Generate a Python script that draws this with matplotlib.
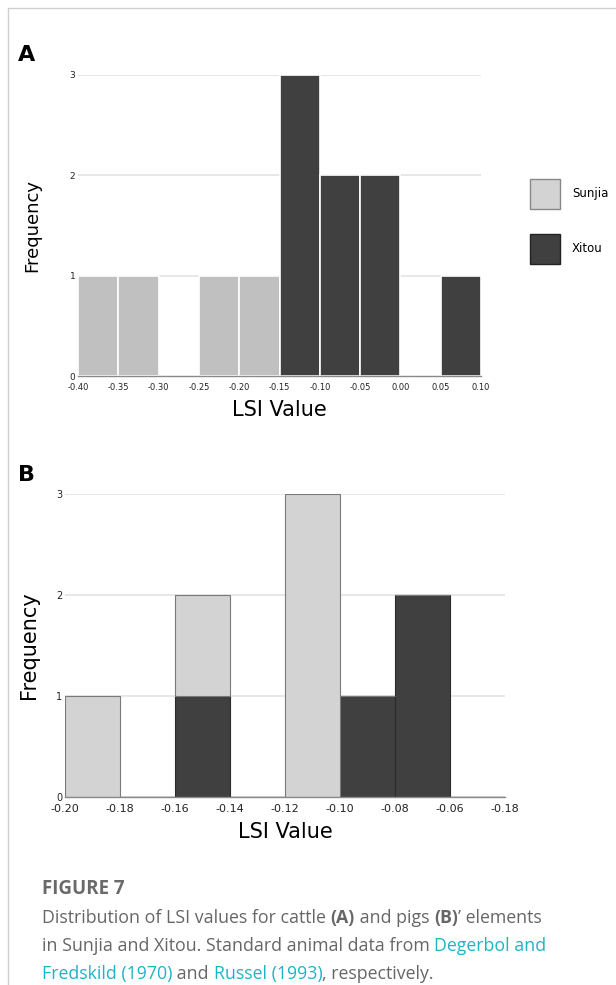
import matplotlib
matplotlib.use("Agg")
import matplotlib.pyplot as plt
from matplotlib.patches import Patch

# panel A (cattle), bins of width 0.05, left edges
a_left = [-0.40, -0.35, -0.30, -0.25, -0.20, -0.15, -0.10, -0.05, 0.00, 0.05]
a_sunjia = [1, 1, 0, 1, 1, 0, 0, 0, 0, 0]
a_xitou = [0, 0, 0, 0, 0, 3, 2, 2, 0, 1]
a_ticks = [-0.40, -0.35, -0.30, -0.25, -0.20, -0.15, -0.10, -0.05, 0.00, 0.05, 0.10]
a_ticklabels = ["-0.40", "-0.35", "-0.30", "-0.25", "-0.20", "-0.15", "-0.10",
                "-0.05", "0.00", "0.05", "0.10"]

# panel B (pigs), bins of width 0.02, Sunjia stacked on Xitou
b_left = [-0.20, -0.18, -0.16, -0.14, -0.12, -0.10, -0.08, -0.06]
b_xitou = [0, 0, 1, 0, 0, 1, 2, 0]
b_sunjia = [1, 0, 1, 0, 3, 0, 0, 0]
b_ticks = [-0.20, -0.18, -0.16, -0.14, -0.12, -0.10, -0.08, -0.06, -0.04]
b_ticklabels = ["-0.20", "-0.18", "-0.16", "-0.14", "-0.12", "-0.10", "-0.08",
                "-0.06", "-0.18"]  # last label as printed in the original

y_ticks = [0, 1, 2, 3]

W, H = 616, 985
fig = plt.figure(figsize=(W / 100, H / 100), dpi=100)
fig.patch.set_facecolor("white")


def px_axes(x0, x1, ytop, ybot):
    return fig.add_axes([x0 / W, 1 - ybot / H, (x1 - x0) / W, (ybot - ytop) / H])


def style(ax, ticksize, ysize):
    for s in ["top", "right", "left"]:
        ax.spines[s].set_visible(False)
    ax.spines["bottom"].set_color("#8a8a8a")
    ax.spines["bottom"].set_linewidth(1.0)
    ax.set_ylim(0, 3)
    ax.set_yticks(y_ticks)
    ax.yaxis.grid(True, color="#e3e3e3", linewidth=1.2)
    ax.set_axisbelow(True)
    ax.tick_params(axis="both", length=0, colors="#222222")
    ax.tick_params(axis="x", labelsize=ticksize, pad=5)
    ax.tick_params(axis="y", labelsize=ysize, pad=2)


# ---- panel A ----
axA = px_axes(78, 481, 75, 376)
axA.bar(a_left, a_sunjia, width=0.05, align="edge", color="#c0c0c0",
        edgecolor="white", linewidth=1.2)
axA.bar(a_left, a_xitou, width=0.05, align="edge", color="#404040",
        edgecolor="white", linewidth=1.2)
axA.set_xlim(-0.40, 0.10)
axA.set_xticks(a_ticks)
axA.set_xticklabels(a_ticklabels)
style(axA, 6, 6.5)
axA.set_xlabel("LSI Value", fontsize=15, labelpad=6)
axA.set_ylabel("Frequency", fontsize=13, labelpad=20)
fig.text(18 / W, 1 - 55 / H, "A", fontsize=16, fontweight="bold", va="center")

handles = [Patch(facecolor="#d3d3d3", edgecolor="#888888", label="Sunjia"),
           Patch(facecolor="#404040", edgecolor="#222222", label="Xitou")]
fig.legend(handles=handles, loc="upper left", bbox_to_anchor=(519 / W, 1 - 168 / H),
           frameon=False, fontsize=8.5, handlelength=2.6, handleheight=3.6,
           labelspacing=2.1, handletextpad=1.0)

# ---- panel B ----
axB = px_axes(65, 505, 494, 797)
axB.bar(b_left, b_xitou, width=0.02, align="edge", color="#404040",
        edgecolor="#2a2a2a", linewidth=0.8)
axB.bar(b_left, b_sunjia, width=0.02, align="edge", bottom=b_xitou,
        color="#d3d3d3", edgecolor="#7a7a7a", linewidth=0.8)
axB.set_xlim(-0.20, -0.04)
axB.set_xticks(b_ticks)
axB.set_xticklabels(b_ticklabels)
style(axB, 8, 7)
axB.set_xlabel("LSI Value", fontsize=15, labelpad=6)
axB.set_ylabel("Frequency", fontsize=15, labelpad=12)
fig.text(18 / W, 1 - 475 / H, "B", fontsize=16, fontweight="bold", va="center")

# page border lines
fig.add_artist(plt.Line2D([8 / W, 1], [1 - 8 / H, 1 - 8 / H], color="#cfcfcf", lw=1))
fig.add_artist(plt.Line2D([8 / W, 8 / W], [0, 1 - 8 / H], color="#cfcfcf", lw=1))

# ---- caption ----
grey = "#666666"
link = "#1fb3c8"
cap_font = "Open Sans"
fig.text(42 / W, 1 - 894 / H, "FIGURE 7", fontsize=13.5, fontweight="bold",
         color="#6a6a6a", family=cap_font, va="baseline")

lines = [
    [("Distribution of LSI values for cattle ", grey, "normal"), ("(A)", grey, "bold"),
     (" and pigs ", grey, "normal"), ("(B)", grey, "bold"), ("\u2019 elements", grey, "normal")],
    [("in Sunjia and Xitou. Standard animal data from ", grey, "normal"),
     ("Degerbol and", link, "normal")],
    [("Fredskild (1970)", link, "normal"), (" and ", grey, "normal"),
     ("Russel (1993)", link, "normal"), (", respectively.", grey, "normal")],
]
baselines = [923, 951, 979]
for parts, yb in zip(lines, baselines):
    prev = None
    for txt, col, wt in parts:
        if prev is None:
            prev = fig.text(42 / W, 1 - yb / H, txt, fontsize=12.8, color=col,
                            fontweight=wt, family=cap_font, va="baseline")
        else:
            # each piece starts where the previous one ends
            prev = axB.annotate(txt, xy=(1, 0), xycoords=prev, fontsize=12.8,
                                color=col, fontweight=wt, family=cap_font,
                                va="bottom", annotation_clip=False)

fig.savefig("out.png", dpi=100, facecolor="white")
